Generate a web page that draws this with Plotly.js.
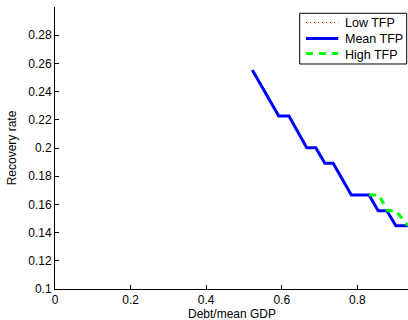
<!DOCTYPE html>
<html><head><meta charset="utf-8">
<script src="https://cdn.plot.ly/plotly-3.0.1.min.js"></script>
<style>html,body{margin:0;padding:0;background:#fff}</style>
</head><body><div id="chart" style="width:408px;height:320px"></div>
<script>
const seriesNames = ['Low TFP', 'Mean TFP', 'High TFP'];
const lowX  = [0.522, 0.592, 0.619, 0.666, 0.690, 0.714, 0.736, 0.784, 0.831, 0.855, 0.878, 0.902, 0.934];
const lowY  = [0.2553, 0.2227, 0.2227, 0.2002, 0.2002, 0.1891, 0.1891, 0.1667, 0.1667, 0.1555, 0.1555, 0.1449, 0.1449];
const meanX = [0.522, 0.592, 0.619, 0.666, 0.690, 0.714, 0.736, 0.784, 0.831, 0.855, 0.878, 0.902, 0.934];
const meanY = [0.2553, 0.2227, 0.2227, 0.2002, 0.2002, 0.1891, 0.1891, 0.1667, 0.1667, 0.1555, 0.1555, 0.1449, 0.1449];
const highX = [0.831, 0.857, 0.880, 0.902, 0.934];
const highY = [0.1667, 0.1667, 0.1555, 0.1555, 0.1449];
const xTicks = [0, 0.2, 0.4, 0.6, 0.8];
const yTicks = [0.1, 0.12, 0.14, 0.16, 0.18, 0.2, 0.22, 0.24, 0.26, 0.28];
const xTitle = 'Debt/mean GDP';
const yTitle = 'Recovery rate';

const FAM = 'Liberation Sans, Arial, Helvetica, sans-serif';
const tickFont = {family: FAM, size: 12, color: '#000'};
const titleFont = {family: FAM, size: 12, color: '#000'};
const legFont = {family: FAM, size: 12.5, color: '#000'};

const styles = [
  {color: '#ff0000', width: 1, dash: '1px,3px'},
  {color: '#0000ff', width: 3, dash: 'solid'},
  {color: '#00ff00', width: 3, dash: '7px,6px'}
];
const traces = [
  {x: lowX, y: lowY, name: seriesNames[0], mode: 'lines', line: styles[0]},
  {x: meanX, y: meanY, name: seriesNames[1], mode: 'lines', line: styles[1]},
  {x: highX, y: highY, name: seriesNames[2], mode: 'lines', line: styles[2]}
];

// hand-drawn MATLAB-style legend box (paper coordinates)
const legRowsLine = [0.9450, 0.8883, 0.8351];
const legRowsText = [0.9433, 0.8865, 0.8298];
const shapes = [{type: 'rect', xref: 'paper', yref: 'paper', x0: 0.6932, x1: 0.9963, y0: 0.7979, y1: 0.9777,
                 line: {color: '#000', width: 1}, fillcolor: '#fff', layer: 'above'}];
const annotations = [];
seriesNames.forEach((n, i) => {
  shapes.push({type: 'line', xref: 'paper', yref: 'paper', x0: 0.7110, x1: 0.8025,
               y0: legRowsLine[i], y1: legRowsLine[i], line: styles[i], layer: 'above'});
  annotations.push({xref: 'paper', yref: 'paper', x: 0.8150, y: legRowsText[i], xanchor: 'left', yanchor: 'middle',
                    text: n, showarrow: false, font: legFont});
});
// x-axis title placed like MATLAB (below the tick labels, near the bottom edge)
annotations.push({xref: 'paper', yref: 'paper', x: 0.5, y: 0, xanchor: 'center', yanchor: 'middle', yshift: -25,
                  text: xTitle, showarrow: false, font: titleFont});

const layout = {
  width: 408, height: 320,
  margin: {l: 55, r: 0, t: 7, b: 31},
  paper_bgcolor: '#fff', plot_bgcolor: '#fff',
  font: tickFont,
  showlegend: false,
  shapes: shapes, annotations: annotations,
  xaxis: {range: [0, 0.934], tickvals: xTicks, ticktext: xTicks.map(String), ticks: 'inside', ticklen: 4,
          showgrid: false, zeroline: false, showline: true, linecolor: '#000', linewidth: 1, tickcolor: '#000',
          tickfont: tickFont, automargin: false},
  yaxis: {range: [0.1, 0.3], tickvals: yTicks, ticktext: yTicks.map(String), ticks: 'inside', ticklen: 4,
          showgrid: false, zeroline: false, showline: true, linecolor: '#000', linewidth: 1, tickcolor: '#000',
          title: {text: yTitle, font: titleFont, standoff: 9}, tickfont: tickFont, automargin: false}
};
Plotly.newPlot('chart', traces, layout, {displayModeBar: false, staticPlot: true});
</script></body></html>
